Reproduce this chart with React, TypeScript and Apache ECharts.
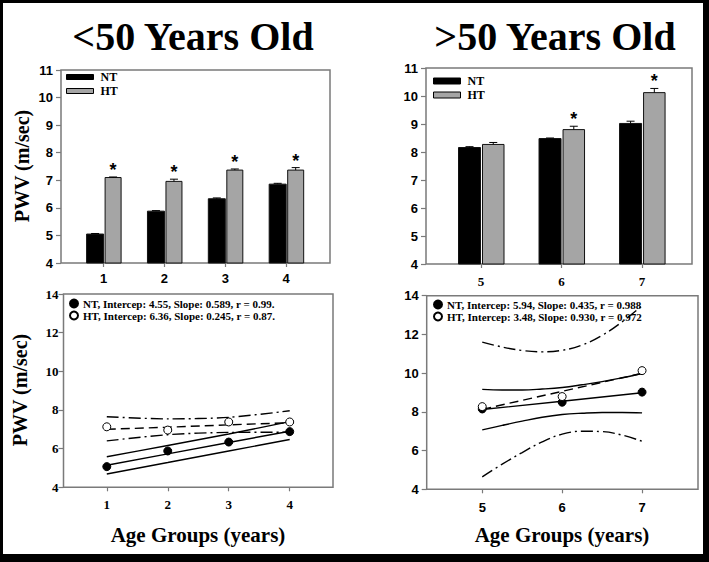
import React, { useEffect, useRef } from "react";
import * as echarts from "echarts";

// ---------- data ----------
const groupsYoung = [1, 2, 3, 4];
const ntYoung = [5.05, 5.88, 6.33, 6.86];
const ntYoungErr = [0.02, 0.02, 0.03, 0.03];
const htYoung = [7.1, 6.96, 7.37, 7.37];
const htYoungErr = [0.02, 0.08, 0.04, 0.09];
const starYoung = [1, 1, 1, 1];

const groupsOld = [5, 6, 7];
const ntOld = [8.16, 8.48, 9.02];
const ntOldErr = [0.03, 0.02, 0.08];
const htOld = [8.27, 8.8, 10.12];
const htOldErr = [0.07, 0.12, 0.15];
const starOld = [0, 1, 1];

// regression panels
const ntYoungPts = [5.07, 5.88, 6.34, 6.88];
const htYoungPts = [7.13, 6.96, 7.38, 7.38];
const ntYoungFit = [5.14, 5.73, 6.32, 6.9];
const ntYoungUpper = [5.58, 6.16, 6.76, 7.4];
const ntYoungLower = [4.69, 5.28, 5.88, 6.47];
const htYoungFit = [7.0, 7.11, 7.23, 7.34];
const htYoungUpper = [7.65, 7.54, 7.62, 7.96];
const htYoungLower = [6.4, 6.72, 6.84, 6.85];

const ntOldPts = [8.15, 8.5, 9.02];
const htOldPts = [8.27, 8.79, 10.13];
const bandX = [5, 5.25, 5.5, 5.75, 6, 6.25, 6.5, 6.75, 7];
const ntOldFit = [8.12, 8.55, 8.99];
const ntOldUpper = [9.16, 9.13, 9.13, 9.18, 9.26, 9.4, 9.56, 9.76, 9.98];
const ntOldLower = [7.07, 7.3, 7.52, 7.72, 7.86, 7.93, 7.97, 7.97, 7.95];
const htOldFit = [8.13, 9.06, 9.99];
const htOldUpper = [11.6, 11.35, 11.17, 11.1, 11.18, 11.45, 11.95, 12.65, 13.48];
const htOldLower = [4.64, 5.3, 5.9, 6.45, 6.85, 7.0, 6.98, 6.8, 6.48];

const legendYoung = [
  "NT, Intercep: 4.55, Slope: 0.589, r = 0.99.",
  "HT, Intercep: 6.36, Slope: 0.245, r = 0.87.",
];
const legendOld = [
  "NT, Intercep: 5.94, Slope: 0.435, r = 0.988",
  "HT, Intercep: 3.48, Slope: 0.930, r = 0.972",
];

const SERIF = '"Liberation Serif", "Times New Roman", serif';
const SANS = '"Liberation Sans", Arial, sans-serif';
const GRAY = "#7a7a7a";
const BARGRAY = "#a5a5a5";

function pairs(xs: number[], ys: number[]) {
  return xs.map((x, i) => [x, ys[i]]);
}

function barRender(offset: number, width: number, fill: string, cap: number) {
  return (params: any, api: any) => {
    const x = api.value(0);
    const v = api.value(1);
    const e = api.value(2);
    const star = api.value(3);
    const top = api.coord([x, v]);
    const base = api.coord([x, 4]);
    const et = api.coord([x, v + e]);
    const left = top[0] + offset;
    const mid = left + width / 2;
    const children: any[] = [
      {
        type: "rect",
        shape: { x: left, y: top[1], width, height: base[1] - top[1] },
        style: { fill, stroke: "#111", lineWidth: 1 },
      },
      {
        type: "line",
        shape: { x1: mid, y1: top[1], x2: mid, y2: et[1] },
        style: { stroke: "#000", lineWidth: 1 },
      },
      {
        type: "line",
        shape: { x1: mid - cap, y1: et[1], x2: mid + cap, y2: et[1] },
        style: { stroke: "#000", lineWidth: 1 },
      },
    ];
    if (star) {
      children.push({
        type: "text",
        style: {
          text: "*",
          x: mid,
          y: et[1] + 2,
          align: "center",
          verticalAlign: "bottom",
          fontSize: 18,
          fontWeight: "bold",
          fontFamily: SANS,
          fill: "#000",
        },
      });
    }
    return { type: "group", children };
  };
}

function yAxisCfg(grid: number, max: number, interval: number, font: string, margin: number) {
  return {
    type: "value",
    gridIndex: grid,
    min: 4,
    max,
    interval,
    axisLine: { show: false },
    splitLine: { show: false },
    axisTick: { show: true, inside: false, length: 5, lineStyle: { color: GRAY, width: 1.2 } },
    axisLabel: { color: "#000", fontWeight: "bold", fontSize: 13, fontFamily: font, margin },
  };
}

function xAxisCfg(grid: number, min: number, max: number, ticks: number[], font: string, margin: number) {
  return {
    type: "value",
    gridIndex: grid,
    min,
    max,
    axisLine: { show: false },
    splitLine: { show: false },
    axisTick: {
      show: true,
      inside: false,
      length: 4,
      customValues: ticks,
      lineStyle: { color: GRAY, width: 1.2 },
    },
    axisLabel: {
      color: "#000",
      fontWeight: "bold",
      fontSize: 13,
      fontFamily: font,
      margin,
      customValues: ticks,
    },
  };
}

function lineSeries(name: string, grid: number, xs: number[], ys: number[], type: any, smooth: number | false) {
  return {
    type: "line",
    name,
    xAxisIndex: grid,
    yAxisIndex: grid,
    data: pairs(xs, ys),
    showSymbol: false,
    smooth,
    silent: true,
    lineStyle: { color: "#000", width: 1.4, type },
    z: 3,
  };
}

const DASH = [9, 5];
const DASHDOT = [12, 4, 2, 4];

export default function App() {
  const ref = useRef<HTMLDivElement>(null);
  useEffect(() => {
    if (!ref.current) return;
    const chart = echarts.init(ref.current, null, { renderer: "svg" });
    const gridStyle = {
      show: true,
      borderColor: GRAY,
      borderWidth: 1.5,
      backgroundColor: "transparent",
      containLabel: false,
    };
    const option: any = {
      animation: false,
      backgroundColor: "#fff",
      grid: [
        { ...gridStyle, left: 61, top: 70, width: 269, height: 193 },
        { ...gridStyle, left: 426, top: 68, width: 266, height: 196 },
        { ...gridStyle, left: 63.5, top: 294, width: 269.5, height: 193.3 },
        { ...gridStyle, left: 426.7, top: 295.7, width: 271.3, height: 193.6 },
      ],
      xAxis: [
        xAxisCfg(0, 0.3, 4.72, groupsYoung, SANS, 9),
        xAxisCfg(1, 4.317, 7.62, groupsOld, SERIF, 11),
        xAxisCfg(2, 0.29, 4.71, groupsYoung, SERIF, 11),
        xAxisCfg(3, 4.305, 7.7, groupsOld, SANS, 12),
      ],
      yAxis: [
        yAxisCfg(0, 11, 1, SANS, 8),
        yAxisCfg(1, 11, 1, SANS, 8),
        yAxisCfg(2, 14, 2, SERIF, 5),
        yAxisCfg(3, 14, 2, SANS, 8),
      ],
      legend: [
        {
          orient: "vertical",
          left: 66,
          top: 71,
          padding: 0,
          itemWidth: 27,
          itemHeight: 5,
          itemGap: 2,
          icon: "rect",
          selectedMode: false,
          textStyle: { fontFamily: SERIF, fontWeight: "bold", fontSize: 12, color: "#000", padding: [0, 0, 0, 2] },
          data: [
            { name: "NT", itemStyle: { color: "#000", borderColor: "#000", borderWidth: 1 } },
            { name: "HT", itemStyle: { color: BARGRAY, borderColor: "#000", borderWidth: 1 } },
          ],
        },
        {
          orient: "vertical",
          left: 433,
          top: 75,
          padding: 0,
          itemWidth: 27,
          itemHeight: 6,
          itemGap: 2,
          icon: "rect",
          selectedMode: false,
          textStyle: { fontFamily: SERIF, fontWeight: "bold", fontSize: 12, color: "#000", padding: [0, 0, 0, 2] },
          data: [
            { name: "NT", itemStyle: { color: "#000", borderColor: "#000", borderWidth: 1 } },
            { name: "HT", itemStyle: { color: BARGRAY, borderColor: "#000", borderWidth: 1 } },
          ],
        },
        {
          orient: "vertical",
          left: 69,
          top: 298,
          padding: 0,
          itemWidth: 8,
          itemHeight: 8,
          itemGap: 1,
          icon: "circle",
          selectedMode: false,
          textStyle: { fontFamily: SERIF, fontWeight: "bold", fontSize: 11, color: "#000" },
          data: legendYoung,
        },
        {
          orient: "vertical",
          left: 433,
          top: 299,
          padding: 0,
          itemWidth: 8,
          itemHeight: 8,
          itemGap: 1,
          icon: "circle",
          selectedMode: false,
          textStyle: { fontFamily: SERIF, fontWeight: "bold", fontSize: 11, color: "#000" },
          data: legendOld,
        },
      ],
      series: [
        {
          type: "custom",
          name: "NT",
          xAxisIndex: 0,
          yAxisIndex: 0,
          itemStyle: { color: "#000" },
          renderItem: barRender(-17, 17, "#000", 4),
          encode: { x: 0, y: 1 },
          data: groupsYoung.map((g, i) => [g, ntYoung[i], ntYoungErr[i], 0]),
          z: 2,
        },
        {
          type: "custom",
          name: "HT",
          xAxisIndex: 0,
          yAxisIndex: 0,
          itemStyle: { color: BARGRAY },
          renderItem: barRender(1.5, 16, BARGRAY, 4),
          encode: { x: 0, y: 1 },
          data: groupsYoung.map((g, i) => [g, htYoung[i], htYoungErr[i], starYoung[i]]),
          z: 2,
        },
        {
          type: "custom",
          name: "NT",
          xAxisIndex: 1,
          yAxisIndex: 1,
          itemStyle: { color: "#000" },
          renderItem: barRender(-22.5, 22, "#000", 4),
          encode: { x: 0, y: 1 },
          data: groupsOld.map((g, i) => [g, ntOld[i], ntOldErr[i], 0]),
          z: 2,
        },
        {
          type: "custom",
          name: "HT",
          xAxisIndex: 1,
          yAxisIndex: 1,
          itemStyle: { color: BARGRAY },
          renderItem: barRender(1.5, 21.5, BARGRAY, 4),
          encode: { x: 0, y: 1 },
          data: groupsOld.map((g, i) => [g, htOld[i], htOldErr[i], starOld[i]]),
          z: 2,
        },
        // bottom-left lines
        lineSeries("ntYFit", 2, groupsYoung, ntYoungFit, "solid", false),
        lineSeries("ntYUp", 2, groupsYoung, ntYoungUpper, "solid", 0.2),
        lineSeries("ntYLo", 2, groupsYoung, ntYoungLower, "solid", 0.2),
        lineSeries("htYFit", 2, groupsYoung, htYoungFit, DASH, false),
        lineSeries("htYUp", 2, groupsYoung, htYoungUpper, DASHDOT, 0.3),
        lineSeries("htYLo", 2, groupsYoung, htYoungLower, DASHDOT, 0.3),
        {
          type: "scatter",
          name: legendYoung[0],
          xAxisIndex: 2,
          yAxisIndex: 2,
          symbol: "circle",
          symbolSize: 8,
          itemStyle: { color: "#000", borderColor: "#000", borderWidth: 1, opacity: 1 },
          data: pairs(groupsYoung, ntYoungPts),
          z: 5,
        },
        {
          type: "scatter",
          name: legendYoung[1],
          xAxisIndex: 2,
          yAxisIndex: 2,
          symbol: "circle",
          symbolSize: 8,
          itemStyle: { color: "#fff", borderColor: "#000", borderWidth: 1, opacity: 1 },
          data: pairs(groupsYoung, htYoungPts),
          z: 5,
        },
        // bottom-right lines
        lineSeries("ntOFit", 3, groupsOld, ntOldFit, "solid", false),
        lineSeries("ntOUp", 3, bandX, ntOldUpper, "solid", 0.4),
        lineSeries("ntOLo", 3, bandX, ntOldLower, "solid", 0.4),
        lineSeries("htOFit", 3, groupsOld, htOldFit, DASH, false),
        lineSeries("htOUp", 3, bandX, htOldUpper, DASHDOT, 0.4),
        lineSeries("htOLo", 3, bandX, htOldLower, DASHDOT, 0.4),
        {
          type: "scatter",
          name: legendOld[0],
          xAxisIndex: 3,
          yAxisIndex: 3,
          symbol: "circle",
          symbolSize: 8,
          itemStyle: { color: "#000", borderColor: "#000", borderWidth: 1, opacity: 1 },
          data: pairs(groupsOld, ntOldPts),
          z: 5,
        },
        {
          type: "scatter",
          name: legendOld[1],
          xAxisIndex: 3,
          yAxisIndex: 3,
          symbol: "circle",
          symbolSize: 8,
          itemStyle: { color: "#fff", borderColor: "#000", borderWidth: 1, opacity: 1 },
          data: pairs(groupsOld, htOldPts),
          z: 5,
        },
      ],
      graphic: [
        { type: "rect", shape: { x: 0, y: 0, width: 709, height: 3 }, style: { fill: "#000" }, silent: true },
        { type: "rect", shape: { x: 0, y: 0, width: 3, height: 562 }, style: { fill: "#000" }, silent: true },
        { type: "rect", shape: { x: 703, y: 0, width: 6, height: 562 }, style: { fill: "#000" }, silent: true },
        { type: "rect", shape: { x: 0, y: 554, width: 709, height: 8 }, style: { fill: "#000" }, silent: true },
        {
          type: "text",
          x: 193,
          y: 36,
          style: { text: "<50 Years Old", align: "center", verticalAlign: "middle", fontSize: 40, fontWeight: "bold", fontFamily: SERIF, fill: "#000" },
        },
        {
          type: "text",
          x: 555,
          y: 36,
          style: { text: ">50 Years Old", align: "center", verticalAlign: "middle", fontSize: 40, fontWeight: "bold", fontFamily: SERIF, fill: "#000" },
        },
        {
          type: "text",
          x: 22,
          y: 166,
          rotation: Math.PI / 2,
          style: { text: "PWV (m/sec)", align: "center", verticalAlign: "middle", fontSize: 20, fontWeight: "bold", fontFamily: SERIF, fill: "#000" },
        },
        {
          type: "text",
          x: 20,
          y: 390,
          rotation: Math.PI / 2,
          style: { text: "PWV (m/sec)", align: "center", verticalAlign: "middle", fontSize: 20, fontWeight: "bold", fontFamily: SERIF, fill: "#000" },
        },
        {
          type: "text",
          x: 198,
          y: 535,
          style: { text: "Age Groups (years)", align: "center", verticalAlign: "middle", fontSize: 21, fontWeight: "bold", fontFamily: SERIF, fill: "#000" },
        },
        {
          type: "text",
          x: 562,
          y: 535,
          style: { text: "Age Groups (years)", align: "center", verticalAlign: "middle", fontSize: 21, fontWeight: "bold", fontFamily: SERIF, fill: "#000" },
        },
      ],
    };
    chart.setOption(option);
    return () => chart.dispose();
  }, []);
  return (
    <div
      ref={ref}
      style={{ position: "absolute", left: 0, top: 0, width: 709, height: 562 }}
    />
  );
}
